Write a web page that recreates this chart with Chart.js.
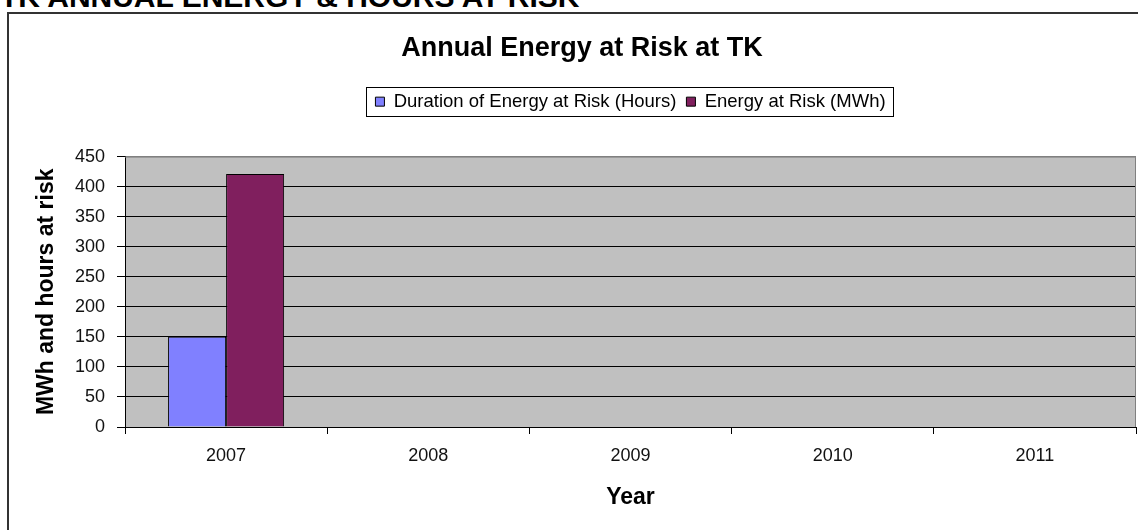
<!DOCTYPE html>
<html>
<head>
<meta charset="utf-8">
<script src="https://cdn.jsdelivr.net/npm/chart.js@4/dist/chart.umd.min.js"></script>
<style>
  html, body { margin: 0; padding: 0; background: #fff; overflow: hidden; }
  body { width: 1138px; height: 530px; position: relative; }
  .page-title {
    position: absolute; left: 0; top: -18px;
    font: bold 30px "Liberation Sans", Arial, sans-serif; line-height: 30px;
    color: #000; white-space: nowrap;
  }
  .frame {
    position: absolute; left: 7px; top: 12px; width: 1200px; height: 600px;
    border: 2px solid #333;
  }
  #chart { position: absolute; left: 0; top: 0; }
</style>
</head>
<body>
<div class="page-title">TK ANNUAL ENERGY &amp; HOURS AT RISK</div>
<div class="frame"></div>
<canvas id="chart" width="1138" height="530"></canvas>
<script>
// chart data
const years = ['2007', '2008', '2009', '2010', '2011'];
const hoursAtRisk = [150, null, null, null, null];
const energyAtRisk = [421, null, null, null, null];
const yTicks = [0, 50, 100, 150, 200, 250, 300, 350, 400, 450];

const FONT = '"Liberation Sans", Arial, sans-serif';

// grey plot area + legend border, the Excel look
const excelLook = {
  id: 'excelLook',
  beforeDraw(chart) {
    const { ctx, chartArea: a } = chart;
    ctx.save();
    ctx.fillStyle = '#C0C0C0';
    ctx.fillRect(a.left, a.top, a.right - a.left, a.bottom - a.top);
    ctx.restore();
  },
  beforeDatasetsDraw(chart) {
    const { ctx, chartArea: a } = chart;
    ctx.save();
    ctx.strokeStyle = '#808080';
    ctx.lineWidth = 1;
    ctx.beginPath();
    ctx.moveTo(a.left, a.top + 0.5);
    ctx.lineTo(a.right - 0.5, a.top + 0.5);
    ctx.lineTo(a.right - 0.5, a.bottom);
    ctx.stroke();
    ctx.restore();
  },
  afterDraw(chart) {
    const boxes = chart.legend && chart.legend.legendHitBoxes;
    if (!boxes || !boxes.length) return;
    const left = Math.min(...boxes.map(b => b.left)) - 9;
    const right = Math.max(...boxes.map(b => b.left + b.width)) + 8;
    const top = Math.min(...boxes.map(b => b.top)) - 5;
    const bottom = Math.max(...boxes.map(b => b.top + b.height)) + 5;
    const ctx = chart.ctx;
    ctx.save();
    ctx.strokeStyle = '#000';
    ctx.lineWidth = 1;
    ctx.strokeRect(Math.round(left) + 0.5, Math.round(top) + 0.5,
      Math.round(right - left), Math.round(bottom - top));
    ctx.restore();
  }
};

new Chart(document.getElementById('chart').getContext('2d'), {
  type: 'bar',
  data: {
    labels: years,
    datasets: [{
      label: 'Duration of Energy at Risk (Hours)',
      data: hoursAtRisk,
      backgroundColor: '#8080FF',
      borderColor: '#000',
      borderWidth: 1
    }, {
      label: 'Energy at Risk (MWh)',
      data: energyAtRisk,
      backgroundColor: '#801F5E',
      borderColor: '#000',
      borderWidth: 1
    }]
  },
  options: {
    responsive: false,
    animation: false,
    datasets: { bar: { categoryPercentage: 0.574, barPercentage: 1 } },
    layout: { padding: { top: 14, left: 28, right: 2, bottom: 18 } },
    plugins: {
      title: {
        display: true,
        text: 'Annual Energy at Risk at TK',
        color: '#000',
        font: { family: FONT, size: 27, weight: 'bold' },
        padding: { top: 18, bottom: 18 }
      },
      legend: {
        display: true,
        position: 'top',
        fullSize: false,
        weight: 1600,
        labels: {
          color: '#000',
          font: { family: FONT, size: 18.5 },
          boxWidth: 9,
          boxHeight: 9,
          padding: 10
        }
      },
      // empty subtitle used as a spacer under the legend
      subtitle: {
        display: true,
        text: '',
        font: { size: 1 },
        padding: { top: 34.5, bottom: 0 }
      },
      tooltip: { enabled: false }
    },
    scales: {
      x: {
        offset: true,
        grid: { display: true, drawOnChartArea: false, color: '#000', tickLength: 7, offset: true },
        border: { color: '#000', width: 1 },
        ticks: { color: '#111', font: { family: FONT, size: 18 }, padding: 11, maxRotation: 0 },
        title: {
          display: true, text: 'Year', color: '#000',
          font: { family: FONT, size: 23, weight: 'bold' },
          padding: { top: 0, bottom: 1 }
        },
        afterFit(scale) { scale.height = 530 - 18 - 427; }
      },
      y: {
        min: 0,
        max: 450,
        afterBuildTicks(scale) { scale.ticks = yTicks.map(v => ({ value: v })); },
        grid: {
          color: c => (c.tick && c.tick.value === 450 ? '#808080' : '#000'),
          tickColor: '#000',
          tickLength: 8
        },
        border: { color: '#000', width: 1 },
        ticks: { color: '#111', font: { family: FONT, size: 18 }, padding: 12 },
        title: {
          display: true, text: 'MWh and hours at risk', color: '#000',
          font: { family: FONT, size: 23, weight: 'bold' },
          padding: { top: 5, bottom: 0 }
        },
        afterFit(scale) { scale.width = 125 - 28; }
      }
    }
  },
  plugins: [excelLook]
});
</script>
</body>
</html>
